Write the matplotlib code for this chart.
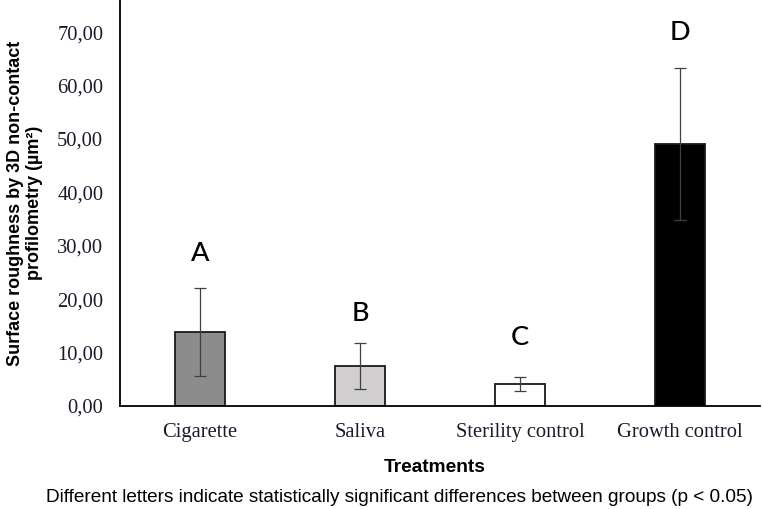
import matplotlib
matplotlib.use("Agg")
import matplotlib.pyplot as plt
from matplotlib.ticker import FuncFormatter

treatments = ["Cigarette", "Saliva", "Sterility control", "Growth control"]
means = [13.9, 7.5, 4.1, 49.0]
errors = [8.2, 4.3, 1.3, 14.2]
letters = ["A", "B", "C", "D"]
letter_y = [28.6, 17.4, 12.9, 70.0]
colors = ["#8c8c8c", "#d0cece", "#ffffff", "#000000"]

fig = plt.figure(figsize=(7.62, 5.09), dpi=100)
ax = fig.add_axes([0.1575, 0.2024, 0.84, 0.7976])

x = list(range(len(treatments)))
ax.bar(x, means, width=0.315, color=colors, edgecolor="#1a1a1a", linewidth=1.3, zorder=2)
ax.errorbar(x, means, yerr=errors, fmt="none", ecolor="#404040", elinewidth=0.9,
            capsize=4, capthick=0.9, zorder=3)

for xi, lab, ly in zip(x, letters, letter_y):
    ax.text(xi, ly, lab, ha="center", va="center", fontsize=19.5, family="Lato",
            fontweight="medium")

ax.set_xlim(-0.5, 3.5)
ax.set_ylim(0, 76)
ax.set_yticks(range(0, 80, 10))
ax.yaxis.set_major_formatter(FuncFormatter(lambda v, p: f"{v:.2f}".replace(".", ",")))
ax.tick_params(axis="y", length=0, pad=12)
ax.tick_params(axis="x", length=0, pad=12)
ax.set_xticks(x)
ax.set_xticklabels(treatments)
for t in ax.get_yticklabels() + ax.get_xticklabels():
    t.set_family("Liberation Serif")
    t.set_fontsize(14.8)
    t.set_color("#1a1a2a")

for s in ["top", "right"]:
    ax.spines[s].set_visible(False)
ax.spines["left"].set_linewidth(1.3)
ax.spines["bottom"].set_linewidth(1.3)

ax.set_ylabel("Surface roughness by 3D non-contact\nprofilometry (µm²)", fontsize=13,
              fontweight="bold", family="Liberation Sans", labelpad=10)
fig.text(0.571, 0.0825, "Treatments", ha="center", va="center", fontsize=13.8,
         fontweight="bold", family="Liberation Sans")
fig.text(0.524, 0.022, "Different letters indicate statistically significant differences between groups (p < 0.05)",
         ha="center", va="center", fontsize=13.7, family="Liberation Sans")

fig.savefig("out.png", dpi=100)
